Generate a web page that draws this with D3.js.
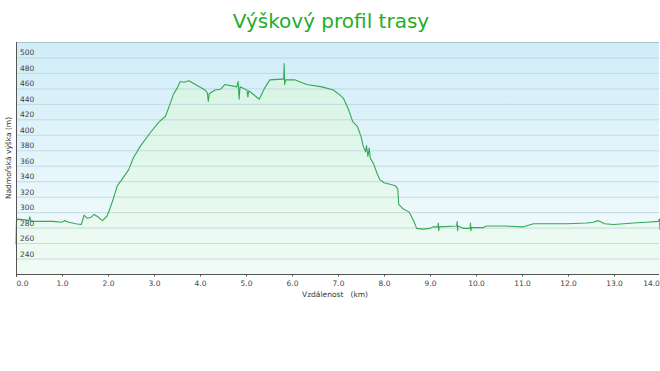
<!DOCTYPE html>
<html>
<head>
<meta charset="utf-8">
<script src="https://cdn.jsdelivr.net/npm/d3@7"></script>
<style>
  body { margin: 0; background: #fff; }
  text { font-family: "DejaVu Sans", Verdana, sans-serif; }
</style>
</head>
<body>
<svg width="660" height="371"></svg>
<script>
// profile: distance (km) and elevation (m)
var distKm = [0.00, 0.01, 0.03, 0.20, 0.28, 0.30, 0.32, 0.50, 0.80, 1.00, 1.05, 1.15, 1.30, 1.42, 1.48,
  1.55, 1.62, 1.70, 1.78, 1.88, 1.98, 2.05, 2.12, 2.20, 2.30, 2.45, 2.55, 2.70, 2.91, 3.10,
  3.25, 3.35, 3.42, 3.50, 3.57, 3.65, 3.76, 3.90, 4.11, 4.16, 4.18, 4.20, 4.33, 4.45, 4.54,
  4.80, 4.83, 4.85, 4.87, 5.02, 5.04, 5.06, 5.29, 5.40, 5.52, 5.78, 5.82, 5.83, 5.84, 5.86,
  6.07, 6.32, 6.65, 6.90, 7.05, 7.12, 7.22, 7.32, 7.42, 7.50, 7.55, 7.60, 7.62, 7.65, 7.68,
  7.70, 7.77, 7.85, 7.91, 8.00, 8.13, 8.25, 8.30, 8.32, 8.42, 8.55, 8.65, 8.71, 8.85, 9.00,
  9.07, 9.17, 9.18, 9.19, 9.20, 9.58, 9.59, 9.60, 9.61, 9.72, 9.87, 9.88, 9.89, 9.90, 10.16,
  10.23, 10.60, 11.03, 11.25, 11.97, 12.41, 12.55, 12.66, 12.80, 12.99, 13.42, 13.70, 13.96, 13.99, 14.00];
var elevM = [258, 288, 291, 290, 289, 294, 288, 288, 288, 287, 289, 287, 285, 284, 296,
  292, 293, 297, 294, 289, 295, 306, 318, 334, 342, 355, 370, 385, 402, 416,
  424, 440, 452, 460, 469, 468, 470, 465, 458, 454, 443, 453, 458, 459, 465,
  462, 469, 446, 462, 458, 449, 457, 446, 460, 471, 472, 472, 492, 465, 471,
  471, 465, 462, 458, 451, 447, 434, 417, 411, 398, 385, 378, 386, 372, 383,
  370, 363, 350, 342, 338, 336, 334, 330, 310, 304, 300, 288, 279, 278, 279,
  281, 281, 286, 276, 281, 282, 288, 276, 282, 279, 279, 286, 276, 280, 280,
  282, 282, 281, 285, 285, 286, 287, 289, 285, 284, 286, 287, 288, 291, 277];

var xTicks = [0, 1, 2, 3, 4, 5, 6, 7, 8, 9, 10, 11, 12, 13, 14];
var yTicks = [240, 260, 280, 300, 320, 340, 360, 380, 400, 420, 440, 460, 480, 500];

var titleText = "Výškový profil trasy",
    xTitle = "Vzdálenost   (km)",
    yTitle = "Nadmořská výška (m)";

var svg = d3.select("svg"),
    plotL = 16, plotR = 659, plotT = 42, plotB = 274;

var x = d3.scaleLinear().domain([0, 14]).range([plotL, 660]);
var y = d3.scaleLinear().domain([220, 520]).range([plotB, plotT]);

var points = distKm.map(function(d, i) { return {d: d, e: elevM[i]}; });

var defs = svg.append("defs");
var bg = defs.append("linearGradient").attr("id", "bg")
  .attr("x1", 0).attr("y1", 0).attr("x2", 0).attr("y2", 1);
bg.append("stop").attr("offset", "0%").attr("stop-color", "#d0edf8");
bg.append("stop").attr("offset", "100%").attr("stop-color", "#f6fcfd");

var fill = defs.append("linearGradient").attr("id", "fill")
  .attr("gradientUnits", "userSpaceOnUse")
  .attr("x1", 0).attr("y1", plotT).attr("x2", 0).attr("y2", plotB);
fill.append("stop").attr("offset", "0%").attr("stop-color", "#d4f3e2");
fill.append("stop").attr("offset", "100%").attr("stop-color", "#f0fbf5");

svg.append("text")
  .attr("x", 331).attr("y", 28)
  .attr("text-anchor", "middle")
  .attr("font-size", 20)
  .attr("fill", "#1fae2a")
  .text(titleText);

svg.append("rect")
  .attr("x", plotL).attr("y", plotT)
  .attr("width", plotR - plotL).attr("height", plotB - plotT)
  .attr("fill", "url(#bg)");

svg.append("line")
  .attr("x1", plotL).attr("x2", plotR)
  .attr("y1", plotT + 0.5).attr("y2", plotT + 0.5)
  .attr("stroke", "#a9c4d0");

var area = d3.area()
  .x(function(p) { return x(p.d); })
  .y0(plotB)
  .y1(function(p) { return y(p.e); });

var line = d3.line()
  .x(function(p) { return x(p.d); })
  .y(function(p) { return y(p.e); });

svg.append("path")
  .datum(points)
  .attr("fill", "url(#fill)")
  .attr("d", area);

// grid lines show through the fill
svg.append("g").selectAll("line")
  .data(yTicks)
  .join("line")
  .attr("x1", plotL).attr("x2", plotR)
  .attr("y1", function(d) { return y(d) + 0.5; })
  .attr("y2", function(d) { return y(d) + 0.5; })
  .attr("stroke", "#bcd3dc")
  .attr("stroke-opacity", 0.8);

svg.append("path")
  .datum(points)
  .attr("fill", "none")
  .attr("stroke", "#36a856")
  .attr("stroke-width", 1.1)
  .attr("stroke-linejoin", "round")
  .attr("d", line);

// y labels sit just above their grid line
svg.append("g").selectAll("text")
  .data(yTicks)
  .join("text")
  .attr("x", 20)
  .attr("y", function(d) { return y(d) - 2; })
  .attr("font-size", 7.5)
  .attr("fill", "#444")
  .text(function(d) { return d; });

// axes
svg.append("line")
  .attr("x1", plotL + 0.5).attr("x2", plotL + 0.5)
  .attr("y1", plotT).attr("y2", plotB + 3)
  .attr("stroke", "#555");

svg.append("g")
  .attr("transform", "translate(0," + (plotB + 0.5) + ")")
  .call(d3.axisBottom(x).tickValues(xTicks).tickSize(2).tickFormat(d3.format(".1f")))
  .call(function(g) {
    g.select(".domain").attr("stroke", "#555").attr("d", "M" + plotL + ",0H" + plotR);
    g.selectAll(".tick line").attr("stroke", "#555");
    g.selectAll(".tick text")
      .attr("font-family", "DejaVu Sans, sans-serif")
      .attr("font-size", 7.5)
      .attr("fill", "#444")
      .attr("dy", "0.9em")
      .attr("dx", function(d) { return d === 0 ? 6 : (d === 14 ? -9 : 0); });
  });

svg.append("text")
  .attr("x", 335).attr("y", 297)
  .attr("text-anchor", "middle")
  .attr("font-size", 7.5)
  .attr("fill", "#333")
  .attr("xml:space", "preserve")
  .style("white-space", "pre")
  .text(xTitle);

svg.append("text")
  .attr("transform", "translate(11,158) rotate(-90)")
  .attr("text-anchor", "middle")
  .attr("font-size", 7.5)
  .attr("fill", "#333")
  .text(yTitle);
</script>
</body>
</html>
